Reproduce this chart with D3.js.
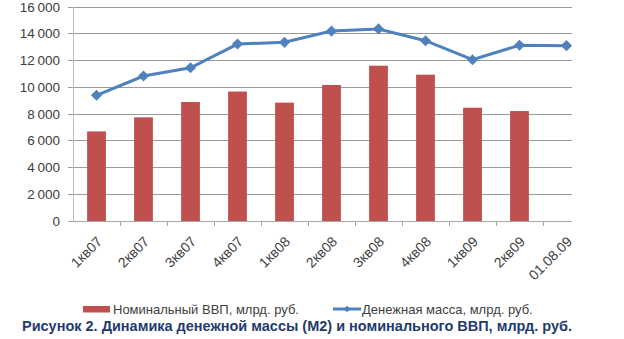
<!DOCTYPE html>
<html><head><meta charset="utf-8">
<script src="https://cdn.jsdelivr.net/npm/d3@7"></script>
<style>body{margin:0;background:#fff}svg{display:block}</style>
</head><body>
<svg id="c" width="624" height="339"></svg>
<script>
const categories = ["1кв07","2кв07","3кв07","4кв07","1кв08","2кв08","3кв08","4кв08","1кв09","2кв09","01.08.09"];
const gdpValues = [6700, 7750, 8900, 9680, 8850, 10170, 11610, 10940, 8470, 8220, null];
const m2Values = [9400, 10840, 11460, 13230, 13360, 14200, 14360, 13480, 12060, 13140, 13110];
const yTicks = [0,2000,4000,6000,8000,10000,12000,14000,16000];
const legendLabels = ["Номинальный ВВП, млрд. руб.", "Денежная масса, млрд. руб."];
const caption = "Рисунок 2. Динамика денежной массы (М2) и номинального ВВП, млрд. руб.";

(function(){
const svg = d3.select("#c");
const pl = 73, pr = 572, pt = 7, pb = 221;
const x = d3.scaleBand().domain(categories).range([pl, pl + 47 * 11]).paddingInner(0.6).paddingOuter(0.3);
const xs = d3.scaleBand().domain(categories).range([pl, pl + 47 * 11]);
const y = d3.scaleLinear().domain([0, 16000]).range([pb, pt]);
const fmt = v => d3.format(",")(v).replace(/,/g, "\u2009");
const font = "Liberation Sans, Arial, sans-serif";

svg.append("g").selectAll("line").data(yTicks).join("line")
  .attr("x1", pl - 5).attr("x2", pr)
  .attr("y1", d => y(d)).attr("y2", d => y(d))
  .attr("stroke", d => d === 0 ? "#a6a6a6" : "#9a9a9a").attr("stroke-width", 1).attr("shape-rendering","crispEdges");
svg.append("line").attr("x1", pl).attr("x2", pl).attr("y1", pt).attr("y2", pb)
  .attr("stroke", "#bdbdbd").attr("shape-rendering","crispEdges");
svg.append("g").selectAll("text").data(yTicks).join("text")
  .attr("x", 60).attr("y", d => y(d)).attr("dy", "0.35em").attr("text-anchor", "end")
  .attr("font-family", font).attr("font-size", 13.5).attr("fill", "#404040")
  .text(d => d === 0 ? "0" : fmt(d));
svg.append("g").selectAll("line").data(categories.slice(1)).join("line")
  .attr("x1", d => xs(d)).attr("x2", d => xs(d)).attr("y1", pb).attr("y2", pb + 5)
  .attr("stroke", "#a6a6a6").attr("shape-rendering","crispEdges");

svg.append("g").selectAll("rect").data(categories.map((c,i)=>({c, v: gdpValues[i]})).filter(d=>d.v!=null)).join("rect")
  .attr("x", d => x(d.c)).attr("width", x.bandwidth())
  .attr("y", d => y(d.v)).attr("height", d => y(0) - y(d.v))
  .attr("fill", "#C0504D");

const pts = categories.map((c,i)=>({c, v: m2Values[i]}));
svg.append("path").datum(pts)
  .attr("d", d3.line().x(d => xs(d.c) + xs.bandwidth()/2).y(d => y(d.v)))
  .attr("fill", "none").attr("stroke", "#4F81BD").attr("stroke-width", 3);
const diamond = d3.symbol().type(d3.symbolSquare).size(62);
svg.append("g").selectAll("path").data(pts).join("path")
  .attr("transform", d => `translate(${xs(d.c) + xs.bandwidth()/2},${y(d.v)}) rotate(45)`)
  .attr("d", diamond).attr("fill", "#4F81BD");

svg.append("g").selectAll("text").data(categories).join("text")
  .attr("transform", d => `translate(${xs(d) + xs.bandwidth()/2 + 3},${pb + 18}) rotate(-45)`)
  .attr("text-anchor", "end").attr("dy", "0.35em")
  .attr("font-family", font).attr("font-size", 14).attr("fill", "#404040")
  .text(d => d);

const lg = svg.append("g").attr("font-family", font).attr("font-size", 13).attr("fill", "#404040");
lg.append("rect").attr("x", 83).attr("y", 306).attr("width", 27).attr("height", 6.5).attr("fill", "#C0504D");
lg.append("text").attr("x", 113).attr("y", 309.5).attr("dy", "0.35em").text(legendLabels[0]);
lg.append("line").attr("x1", 333).attr("x2", 361).attr("y1", 309).attr("y2", 309).attr("stroke", "#4F81BD").attr("stroke-width", 3);
lg.append("path").attr("transform", "translate(347,309) rotate(45)").attr("d", d3.symbol().type(d3.symbolSquare).size(22)).attr("fill", "#4F81BD");
lg.append("text").attr("x", 362).attr("y", 309.5).attr("dy", "0.35em").text(legendLabels[1]);

svg.append("text").attr("x", 22).attr("y", 325.5).attr("dy", "0.35em")
  .attr("font-family", font).attr("font-weight", "bold").attr("font-size", 14.5)
  .attr("fill", "#1F3B6E").attr("textLength", 550).attr("lengthAdjust", "spacingAndGlyphs")
  .text(caption);
})();
</script>
</body></html>
